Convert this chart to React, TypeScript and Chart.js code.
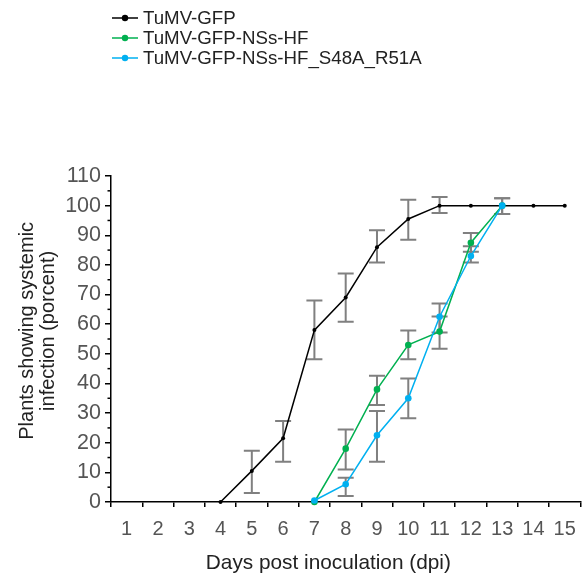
import React, { useEffect, useRef } from "react";
import { Chart, registerables } from "chart.js";

Chart.register(...registerables);

// ---- data ----
const days = ["1", "2", "3", "4", "5", "6", "7", "8", "9", "10", "11", "12", "13", "14", "15"];
const seriesNames = ["TuMV-GFP", "TuMV-GFP-NSs-HF", "TuMV-GFP-NSs-HF_S48A_R51A"];
const seriesColors = ["#000000", "#00b050", "#00b0f0"];

const tuMV = [null, null, null, 0, 10.5, 21.5, 58, 69, 86, 95.5, 100, 100, 100, 100, 100];
const tuMVLow = [null, null, null, null, 3, 13.6, 48.2, 60.8, 80.8, 88.5, 97.5, null, null, null, null];
const tuMVHigh = [null, null, null, null, 17.3, 27.3, 68, 77.1, 91.7, 102, 102.9, null, null, null, null];

const nss = [null, null, null, null, null, null, 0, 18, 38, 53, 57.5, 87.5, 100, null, null];
const nssLow = [null, null, null, null, null, null, null, 11, 32.7, 48.2, 51.7, 84.4, 97.2, null, null];
const nssHigh = [null, null, null, null, null, null, null, 24.5, 42.6, 57.9, 62.6, 90.8, 102.5, null, null];

const mut = [null, null, null, null, null, null, 0.5, 6, 22.5, 35, 62.5, 83, 100, null, null];
const mutLow = [null, null, null, null, null, null, null, 2, 13.6, 28.3, 57.2, 80.8, 97.2, null, null];
const mutHigh = [null, null, null, null, null, null, null, 8.2, 30.7, 41.7, 67, 86.3, 102.5, null, null];

const yMin = 0;
const yMax = 110;
const yStep = 10;
const yMinorValues = [5, 15, 25, 35, 45, 55, 65, 75, 85, 95, 105];

const xTitle = "Days post inoculation (dpi)";
const yTitle = ["Plants showing systemic", "infection (porcent)"];

const FONT = "'Liberation Sans', Arial, Helvetica, sans-serif";

const errorBarPlugin = {
  id: "errorBars",
  beforeDatasetsDraw(chart: any) {
    const ctx = chart.ctx;
    const xs = chart.scales.x;
    const ys = chart.scales.y;
    ctx.save();
    ctx.strokeStyle = "#808080";
    ctx.lineWidth = 2;
    chart.data.datasets.forEach((ds: any) => {
      const lows = ds.errLow || [];
      const highs = ds.errHigh || [];
      lows.forEach((lo: number | null, i: number) => {
        const hi = highs[i];
        if (lo == null || hi == null) return;
        const x = xs.getPixelForValue(i);
        const y1 = ys.getPixelForValue(lo);
        const y2 = ys.getPixelForValue(hi);
        ctx.beginPath();
        ctx.moveTo(x, y1);
        ctx.lineTo(x, y2);
        ctx.moveTo(x - 8, y1);
        ctx.lineTo(x + 8, y1);
        ctx.moveTo(x - 8, y2);
        ctx.lineTo(x + 8, y2);
        ctx.stroke();
      });
    });
    ctx.restore();
  },
};

const decorPlugin = {
  id: "decor",
  afterDraw(chart: any) {
    const ctx = chart.ctx;
    const ys = chart.scales.y;
    const area = chart.chartArea;
    ctx.save();
    // minor y ticks
    ctx.strokeStyle = "#000";
    ctx.lineWidth = 1.5;
    yMinorValues.forEach((v) => {
      const y = ys.getPixelForValue(v);
      ctx.beginPath();
      ctx.moveTo(area.left - 3.5, y);
      ctx.lineTo(area.left, y);
      ctx.stroke();
    });
    // axis titles
    ctx.fillStyle = "#222";
    ctx.font = `20.8px ${FONT}`;
    ctx.textAlign = "center";
    ctx.textBaseline = "alphabetic";
    const xc = area.left + (area.right - area.left) * 0.463;
    ctx.fillText(xTitle, xc, 569);
    ctx.font = `20px ${FONT}`;
    const yc = area.top + (area.bottom - area.top) * 0.475;
    ctx.save();
    ctx.translate(27, yc);
    ctx.rotate(-Math.PI / 2);
    ctx.textBaseline = "middle";
    yTitle.forEach((t, i) => ctx.fillText(t, 0, i * 21.5));
    ctx.restore();
    // legend
    ctx.font = `18.7px ${FONT}`;
    ctx.textAlign = "left";
    ctx.textBaseline = "middle";
    seriesNames.forEach((name, i) => {
      const y = 18 + i * 20;
      const c = seriesColors[i];
      ctx.strokeStyle = c;
      ctx.lineWidth = 1.5;
      ctx.beginPath();
      ctx.moveTo(112, y);
      ctx.lineTo(138, y);
      ctx.stroke();
      ctx.fillStyle = c;
      ctx.beginPath();
      ctx.arc(125, y, 3.2, 0, Math.PI * 2);
      ctx.fill();
      ctx.fillStyle = "#222";
      ctx.fillText(name, 143, y + 1);
    });
    ctx.restore();
  },
};

export default function App() {
  const ref = useRef<HTMLCanvasElement | null>(null);
  useEffect(() => {
    if (!ref.current) return;
    const chart = new Chart(ref.current, {
      type: "line",
      data: {
        labels: days,
        datasets: [
          {
            label: seriesNames[0],
            data: tuMV,
            borderColor: seriesColors[0],
            backgroundColor: seriesColors[0],
            borderWidth: 1.5,
            pointRadius: 2,
            pointBorderWidth: 0,
            tension: 0,
            clip: false,
            order: 2,
            errLow: tuMVLow,
            errHigh: tuMVHigh,
          } as any,
          {
            label: seriesNames[1],
            data: nss,
            borderColor: seriesColors[1],
            backgroundColor: seriesColors[1],
            borderWidth: 1.5,
            pointRadius: 3.3,
            pointBorderWidth: 0,
            tension: 0,
            clip: false,
            order: 1,
            errLow: nssLow,
            errHigh: nssHigh,
          } as any,
          {
            label: seriesNames[2],
            data: mut,
            borderColor: seriesColors[2],
            backgroundColor: seriesColors[2],
            borderWidth: 1.5,
            pointRadius: 3.3,
            pointBorderWidth: 0,
            tension: 0,
            clip: false,
            order: 0,
            errLow: mutLow,
            errHigh: mutHigh,
          } as any,
        ],
      },
      options: {
        animation: false,
        responsive: false,
        layout: { padding: { top: 176, right: 3, left: 0, bottom: 0 } },
        plugins: { legend: { display: false }, tooltip: { enabled: false } },
        scales: {
          x: {
            type: "category",
            offset: true,
            grid: {
              display: true,
              offset: true,
              drawOnChartArea: false,
              drawTicks: true,
              tickLength: 5,
              color: "#000",
              lineWidth: 1.5,
            },
            border: { display: true, color: "#000", width: 1.5 },
            ticks: { font: { family: FONT, size: 20 }, color: "#555", padding: 10, maxRotation: 0, autoSkip: false },
            afterFit: (s: any) => {
              s.height = 73;
            },
          },
          y: {
            min: yMin,
            max: yMax,
            grid: {
              display: true,
              drawOnChartArea: false,
              drawTicks: true,
              tickLength: 6,
              color: "#000",
              lineWidth: 1.5,
            },
            border: { display: true, color: "#000", width: 1.5 },
            ticks: { stepSize: yStep, font: { family: FONT, size: 21.5 }, color: "#555", padding: 4 },
            afterFit: (s: any) => {
              s.width = 111;
            },
          },
        },
      },
      plugins: [errorBarPlugin, decorPlugin],
    });
    return () => chart.destroy();
  }, []);
  return (
    <div style={{ position: "absolute", left: 0, top: 0, width: 586, height: 575 }}>
      <canvas ref={ref} width={586} height={575} style={{ display: "block" }} />
    </div>
  );
}
